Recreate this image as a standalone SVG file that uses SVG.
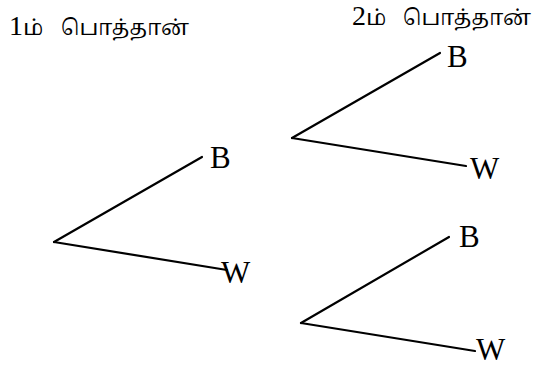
<svg xmlns="http://www.w3.org/2000/svg" width="536" height="370" viewBox="0 0 536 370">
<style>
.bg{fill:#fff}
.ln{stroke:#000;stroke-width:2.2;fill:none;stroke-linecap:round}
.lbl{font-family:"Liberation Serif","Times New Roman",serif;font-size:31px;fill:#000}
.ttl{font-family:"Noto Serif Tamil","Noto Sans Tamil","Latha","Liberation Serif",serif;font-size:22px;fill:#000}
.num{font-family:"Liberation Serif","Times New Roman",serif;font-size:28px}
</style>
<rect class="bg" width="536" height="370"/>
<g id="title1"><text class="ttl" y="35"><tspan class="num" x="9">1</tspan><tspan>ம்</tspan></text><text class="ttl" y="35" x="61" textLength="128" lengthAdjust="spacingAndGlyphs">பொத்தான்</text></g>
<g id="title2"><text class="ttl" y="25"><tspan class="num" x="352">2</tspan><tspan>ம்</tspan></text><text class="ttl" y="25" x="403" textLength="128" lengthAdjust="spacingAndGlyphs">பொத்தான்</text></g>
<g id="connectors">
<line class="ln" x1="54" y1="242" x2="202" y2="157"/>
<line class="ln" x1="54" y1="242" x2="227" y2="270"/>
<line class="ln" x1="292" y1="138" x2="440" y2="53"/>
<line class="ln" x1="292" y1="138" x2="466" y2="166"/>
<line class="ln" x1="301" y1="323" x2="449" y2="237"/>
<line class="ln" x1="301" y1="323" x2="475" y2="351"/>
</g>
<g id="n1B"><text class="lbl" x="210" y="168">B</text></g>
<g id="n1W"><text class="lbl" x="221" y="283">W</text></g>
<g id="n2B"><text class="lbl" x="447" y="67">B</text></g>
<g id="n2W"><text class="lbl" x="470" y="179">W</text></g>
<g id="n3B"><text class="lbl" x="459" y="247">B</text></g>
<g id="n3W"><text class="lbl" x="476" y="360">W</text></g>
</svg>
